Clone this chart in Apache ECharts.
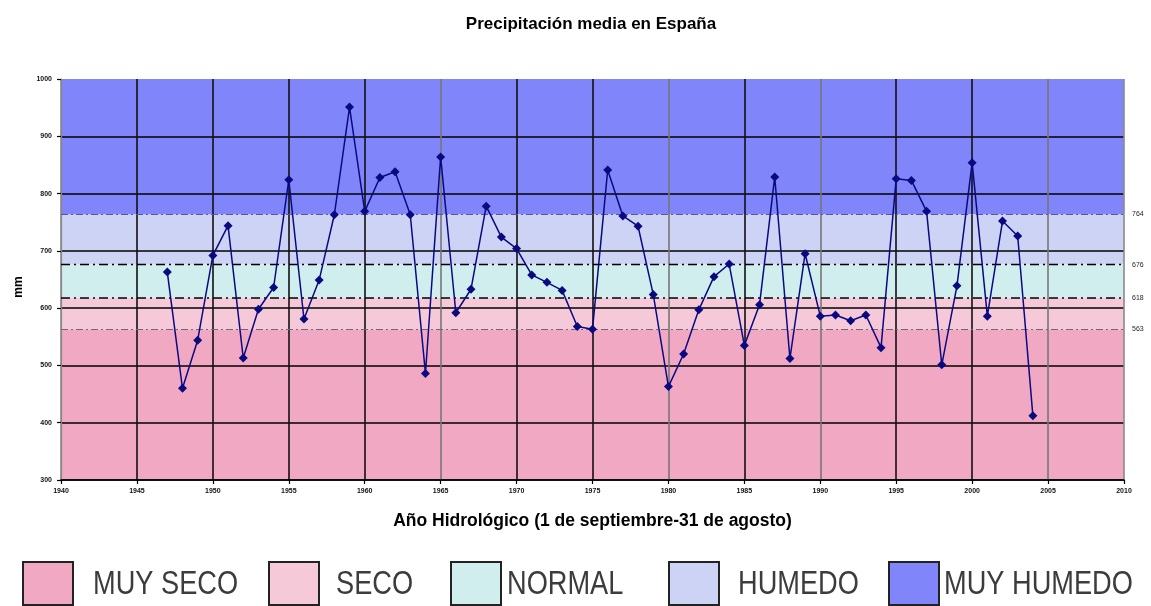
<!DOCTYPE html>
<html>
<head>
<meta charset="utf-8">
<script src="https://cdn.jsdelivr.net/npm/echarts@6/dist/echarts.min.js"></script>
<style>
  html, body { margin: 0; padding: 0; background: #fff; }
  #chart { width: 1151px; height: 606px; }
</style>
</head>
<body>
<div id="chart"></div>
<script>
// Hydrological years (1 Sep - 31 Aug) and mean precipitation in Spain, mm
const years = [
  1947, 1948, 1949, 1950, 1951, 1952, 1953, 1954, 1955, 1956,
  1957, 1958, 1959, 1960, 1961, 1962, 1963, 1964, 1965, 1966,
  1967, 1968, 1969, 1970, 1971, 1972, 1973, 1974, 1975, 1976,
  1977, 1978, 1979, 1980, 1981, 1982, 1983, 1984, 1985, 1986,
  1987, 1988, 1989, 1990, 1991, 1992, 1993, 1994, 1995, 1996,
  1997, 1998, 1999, 2000, 2001, 2002, 2003, 2004
];
const precipitation = [
  663, 460, 544, 692, 744, 513, 598, 636, 824, 581,
  649, 763, 951, 769, 828, 838, 763, 486, 864, 592,
  633, 778, 724, 704, 658, 645, 631, 568, 563, 841,
  761, 743, 624, 463, 520, 597, 655, 677, 535, 606,
  829, 512, 695, 586, 588, 578, 588, 531, 826, 823,
  769, 501, 639, 854, 586, 752, 726, 412
];

// Class limits (mm) separating the five categories
const thresholds = [563, 618, 676, 764];
const bandNames = ['MUY SECO', 'SECO', 'NORMAL', 'HUMEDO', 'MUY HUMEDO'];
const bandColors = ['#f1a9c3', '#f6c9d9', '#d1eeee', '#cdd3f4', '#8185fa'];

const yMin = 300, yMax = 1000, yStep = 100;
const xMin = 1940, xMax = 2010, xStep = 5;

const seriesData = years.map((y, i) => [y, precipitation[i]]);

// Band areas from the class limits
const edges = [yMin, ...thresholds, yMax];
const bandAreas = bandNames.map((name, i) => [
  { yAxis: edges[i], itemStyle: { color: bandColors[i] } },
  { yAxis: edges[i + 1] }
]);

// Limit lines: outer limits thin grey, inner limits black
const limitStyles = [
  { color: '#6a6a7a', width: 1, type: [7, 3, 2, 3] },
  { color: '#000', width: 1.6, type: [9, 4, 2, 4] },
  { color: '#000', width: 1.3, type: [9, 4, 2, 4] },
  { color: '#5a5a8a', width: 1.2, type: [7, 3, 2, 3] }
];
const limitLines = thresholds.map((v, i) => ({ yAxis: v, lineStyle: limitStyles[i] }));

// Vertical grid line shades
const vGridColors = ['#888', '#111', '#111', '#111', '#111', '#777', '#111', '#111',
                     '#777', '#111', '#777', '#111', '#111', '#777', '#8a8a8a'];

// Legend boxes under the chart
const legendBoxX = [22, 268, 450, 668, 888];
const legendTextX = [93, 336, 507, 738, 944];
const legendGraphics = [];
bandNames.forEach((name, i) => {
  legendGraphics.push({
    type: 'rect',
    left: legendBoxX[i], top: 561,
    shape: { width: 50, height: 43 },
    style: { fill: bandColors[i], stroke: '#222', lineWidth: 2 }
  });
  legendGraphics.push({
    type: 'text',
    x: legendTextX[i], y: 585,
    scaleX: 0.8,
    style: {
      text: name, fill: '#3c3c3c',
      font: '34px "Liberation Sans", Arial, sans-serif',
      textVerticalAlign: 'middle'
    }
  });
});

const chart = echarts.init(document.getElementById('chart'), null, { renderer: 'canvas' });
chart.setOption({
  animation: false,
  backgroundColor: '#fff',
  graphic: [
    {
      type: 'text',
      x: 591, y: 24,
      style: {
        text: 'Precipitación media en España', fill: '#000',
        font: 'bold 17px "Liberation Sans", Arial, sans-serif',
        textAlign: 'center', textVerticalAlign: 'middle'
      }
    },
    {
      type: 'text',
      x: 19, y: 287,
      rotation: Math.PI / 2,
      style: {
        text: 'mm', fill: '#000',
        font: 'bold 12px "Liberation Sans", Arial, sans-serif',
        textAlign: 'center', textVerticalAlign: 'middle'
      }
    },
    ...legendGraphics
  ],
  grid: { left: 61, right: 27, top: 79, bottom: 126 },
  xAxis: {
    type: 'value', min: xMin, max: xMax, interval: xStep, z: 1,
    name: 'Año Hidrológico (1 de septiembre-31 de agosto)',
    nameLocation: 'middle', nameGap: 32,
    nameTextStyle: { fontFamily: 'Liberation Sans', fontWeight: 'bold', fontSize: 17.5, color: '#000' },
    axisLine: { lineStyle: { color: '#000', width: 1.6 } },
    axisTick: { show: true, length: 4, lineStyle: { color: '#000', width: 1.2 } },
    axisLabel: {
      fontFamily: 'Liberation Sans', fontWeight: 'bold', fontSize: 7, color: '#111', margin: 8,
      formatter: v => String(v)
    },
    splitLine: { show: true, lineStyle: { color: vGridColors, width: 1.6 } }
  },
  yAxis: {
    type: 'value', min: yMin, max: yMax, interval: yStep, z: 1,
    axisLine: { show: true, lineStyle: { color: '#888', width: 1.2 } },
    axisTick: { show: true, length: 4, lineStyle: { color: '#000', width: 1.2 } },
    axisLabel: {
      fontFamily: 'Liberation Sans', fontWeight: 'bold', fontSize: 7, color: '#111', margin: 9,
      formatter: v => String(v)
    },
    splitLine: { show: true, showMaxLine: false, lineStyle: { color: '#000', width: 1.6 } }
  },
  series: [{
    type: 'line',
    z: 3,
    data: seriesData,
    symbol: 'diamond',
    symbolSize: 9,
    itemStyle: { color: '#0a0a80' },
    lineStyle: { color: '#0a0a80', width: 1.5 },
    markArea: {
      z: 0, silent: true,
      label: { show: false },
      data: bandAreas
    },
    markLine: {
      z: 2, silent: true, symbol: 'none',
      label: {
        show: true, position: 'end', distance: 8,
        formatter: p => String(p.value),
        fontFamily: 'Liberation Sans', fontSize: 7, color: '#222'
      },
      data: limitLines
    }
  }]
});
</script>
</body>
</html>
